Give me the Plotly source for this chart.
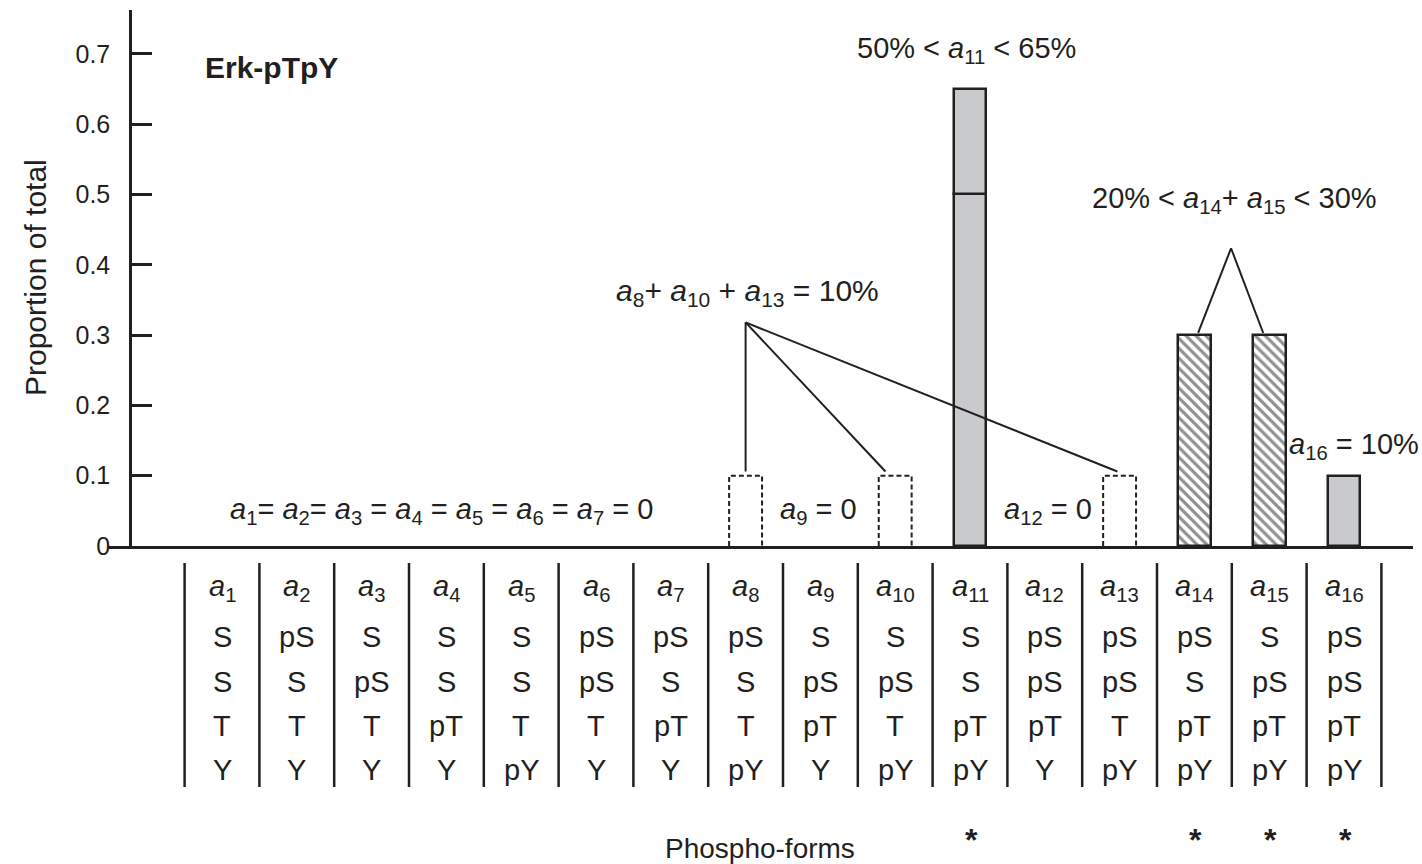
import plotly.graph_objects as go

# ---- data -------------------------------------------------------------
categories = list(range(1, 17))
proportion = [0, 0, 0, 0, 0, 0, 0, 0.1, 0, 0.1, 0.65, 0, 0.1, 0.3, 0.3, 0.1]
bar_style = ["none"] * 7 + ["dashed", "none", "dashed", "solid", "none",
                            "dashed", "hatched", "hatched", "solid"]
a11_split = 0.5            # internal division drawn inside the a11 bar

site1 = ["S", "pS", "S", "S", "S", "pS", "pS", "pS", "S", "S", "S", "pS", "pS", "pS", "S", "pS"]
site2 = ["S", "S", "pS", "S", "S", "pS", "S", "S", "pS", "pS", "S", "pS", "pS", "S", "pS", "pS"]
site3 = ["T", "T", "T", "pT", "T", "T", "pT", "T", "pT", "T", "pT", "pT", "T", "pT", "pT", "pT"]
site4 = ["Y", "Y", "Y", "Y", "pY", "Y", "Y", "pY", "Y", "pY", "pY", "Y", "pY", "pY", "pY", "pY"]
starred = [11, 14, 15, 16]

y_ticks = [0, 0.1, 0.2, 0.3, 0.4, 0.5, 0.6, 0.7]
y_tick_labels = ["0", "0.1", "0.2", "0.3", "0.4", "0.5", "0.6", "0.7"]

# ---- styling ----------------------------------------------------------
INK = "#231f20"
GREY = "#c9cacc"
FONT = "Arial, Liberation Sans, Helvetica, sans-serif"
BAR_W = 0.44
W, H = 1422, 864
M_L, M_R, M_T, M_B = 108, 9, 10, 318
Y_TOP = 0.7624
PLOT_H = H - M_T - M_B


def sub_a(n):
    return f"<i>a</i><sub>{n}</sub>"


def below(px_from_axis):
    """paper y for a point the given number of pixels below the x axis"""
    return -px_from_axis / PLOT_H


fig = go.Figure()

# solid grey bars (a11 is drawn as two stacked pieces split at a11_split)
sx, sy, sb = [], [], []
for c, v, s in zip(categories, proportion, bar_style):
    if s != "solid":
        continue
    if c == 11:
        sx += [c, c]
        sy += [a11_split, v - a11_split]
        sb += [0, a11_split]
    else:
        sx.append(c)
        sy.append(v)
        sb.append(0)
fig.add_trace(go.Bar(x=sx, y=sy, base=sb, width=BAR_W,
                     marker=dict(color=GREY, line=dict(color=INK, width=2.5)),
                     showlegend=False, hoverinfo="skip"))

# hatched bars
hx = [c for c, s in zip(categories, bar_style) if s == "hatched"]
hy = [v for v, s in zip(proportion, bar_style) if s == "hatched"]
fig.add_trace(go.Bar(x=hx, y=hy, width=BAR_W,
                     marker=dict(color="white",
                                 pattern=dict(shape="\\", fgcolor=INK, bgcolor="white",
                                              size=7, solidity=0.45, fillmode="overlay"),
                                 line=dict(color=INK, width=2.5)),
                     showlegend=False, hoverinfo="skip"))

# dashed outline bars
dx, dy = [], []
for c, v, s in zip(categories, proportion, bar_style):
    if s != "dashed":
        continue
    dx += [c - BAR_W / 2, c - BAR_W / 2, c + BAR_W / 2, c + BAR_W / 2, None]
    dy += [0, v, v, 0, None]
fig.add_trace(go.Scatter(x=dx, y=dy, mode="lines",
                         line=dict(color=INK, width=2, dash="5px,3px"),
                         showlegend=False, hoverinfo="skip"))

annotations = []
shapes = []


def text(x, y, t, size=29, xanchor="center", yanchor="middle", bold=False,
         xref="x", yref="y", angle=0):
    annotations.append(dict(x=x, y=y, xref=xref, yref=yref, text=f"<b>{t}</b>" if bold else t,
                            showarrow=False, xanchor=xanchor, yanchor=yanchor, textangle=angle,
                            font=dict(family=FONT, size=size, color=INK)))


def line(x0, y0, x1, y1, width=2):
    shapes.append(dict(type="line", xref="x", yref="y", x0=x0, y0=y0, x1=x1, y1=y1,
                       line=dict(color=INK, width=width)))


# panel title
text(0.746, 0.681, "Erk-pTpY", size=30, xanchor="left", bold=True)

# range notes over the bars
text(10.95, 0.706, f"50% &lt; {sub_a(11)} &lt; 65%")
text(8.03, 0.36, f"{sub_a(8)}+ {sub_a(10)} + {sub_a(13)} = 10%", size=30)
line(8.0, 0.318, 8.0, 0.106)
line(8.0, 0.318, 9.87, 0.106)
line(8.0, 0.318, 12.97, 0.106)
text(14.53, 0.492, f"20% &lt; {sub_a(14)}+ {sub_a(15)} &lt; 30%")
line(14.49, 0.4235, 14.05, 0.303)
line(14.49, 0.4235, 14.92, 0.303)
text(16.13, 0.142, f"{sub_a(16)} = 10%")
text(3.94, 0.05, "= ".join(sub_a(i) for i in range(1, 4)) + " = "
     + " = ".join(sub_a(i) for i in range(4, 8)) + " = 0")
text(8.97, 0.05, f"{sub_a(9)} = 0")
text(12.04, 0.05, f"{sub_a(12)} = 0")

# y-axis title
text(-0.0559, 0.5, "Proportion of total", size=30, xref="paper", yref="paper", angle=-90)

# phospho-form table under the axis
row_px = [42, 91, 136, 180, 224]
for i, c in enumerate(categories):
    text(c, below(row_px[0]), sub_a(c), yref="paper")
    for r, col in enumerate([site1, site2, site3, site4], start=1):
        text(c, below(row_px[r]), col[i], yref="paper")
for c in starred:
    text(c + 0.02, below(294), "*", yref="paper", size=32, bold=True)
text(8.19, below(302), "Phospho-forms", yref="paper", size=28)

for k in range(0, 17):
    shapes.append(dict(type="line", xref="x", yref="paper", x0=k + 0.5, x1=k + 0.5,
                       y0=below(17), y1=below(241), line=dict(color=INK, width=2.5)))

fig.update_layout(
    width=W, height=H,
    margin=dict(l=M_L, r=M_R, t=M_T, b=M_B),
    paper_bgcolor="white", plot_bgcolor="white",
    barmode="overlay", bargap=0,
    annotations=annotations, shapes=shapes,
    xaxis=dict(range=[1 + (M_L - 222) / 74.8, 1 + (W - M_R - 222) / 74.8],
               showline=True, linecolor=INK, linewidth=2.5,
               showticklabels=False, ticks="", showgrid=False, zeroline=False),
    yaxis=dict(range=[0, Y_TOP], anchor="free", position=(130 - M_L) / (W - M_L - M_R),
               showline=True, linecolor=INK, linewidth=2.5,
               ticks="inside", ticklen=20, tickwidth=2.5, tickcolor=INK,
               tickvals=y_ticks, ticktext=y_tick_labels, ticklabelstandoff=14,
               tickfont=dict(family=FONT, size=25, color=INK),
               showgrid=False, zeroline=False),
)

fig.write_html("out.html")
